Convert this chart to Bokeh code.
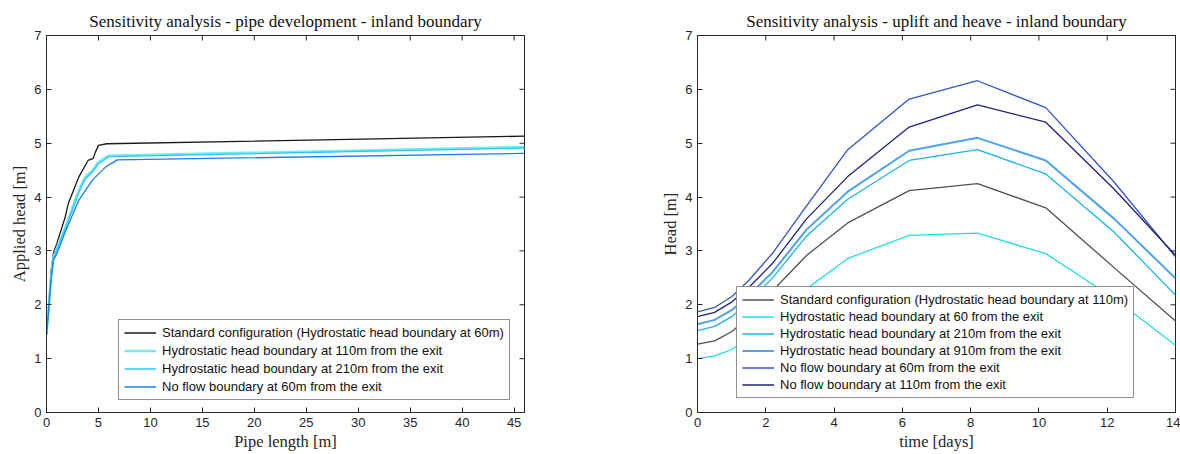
import math
from bokeh.plotting import figure
from bokeh.models import Legend, LegendItem, Range1d, FixedTicker
from bokeh.layouts import row
from bokeh.embed import file_html
from bokeh.resources import INLINE

# ---------------- Left panel: pipe development ----------------
std60_x = [0, 0.2, 0.45, 0.67, 1.0, 1.8, 2.1, 3.1, 4.0, 4.5, 4.7, 5.0, 5.8, 46]
std60_y = [1.44, 1.96, 2.64, 2.96, 3.14, 3.63, 3.88, 4.37, 4.68, 4.72, 4.83, 4.96, 4.99, 5.13]

hh110_x = [0, 0.2, 0.45, 0.67, 1.0, 1.8, 3.1, 3.7, 4.4, 5.0, 6.0, 46]
hh110_y = [1.44, 1.92, 2.55, 2.89, 3.05, 3.44, 4.12, 4.37, 4.49, 4.65, 4.77, 4.93]

hh210_x = [0, 0.2, 0.45, 0.67, 1.0, 1.8, 3.1, 3.7, 4.4, 5.0, 6.0, 46]
hh210_y = [1.44, 1.90, 2.52, 2.86, 3.02, 3.40, 4.08, 4.33, 4.46, 4.62, 4.75, 4.91]

nf60_x = [0, 0.2, 0.45, 0.67, 1.0, 1.8, 3.1, 4.4, 4.7, 5.7, 6.8, 46]
nf60_y = [1.44, 1.88, 2.48, 2.83, 2.95, 3.35, 3.94, 4.31, 4.37, 4.56, 4.69, 4.81]

left_labels = [
    "Standard configuration (Hydrostatic head boundary at 60m)",
    "Hydrostatic head boundary at 110m from the exit",
    "Hydrostatic head boundary at 210m from the exit",
    "No flow boundary at 60m from the exit",
]
left_colors = ["#1a1a1a", "#6ff0f0", "#2fc4f5", "#1a7ff0"]
left_widths = [1.3, 2.4, 1.3, 1.3]
pipe_ticks = [0, 5, 10, 15, 20, 25, 30, 35, 40, 45]

# ---------------- Right panel: uplift and heave ----------------
days = [0, 0.5, 1.0, 1.5, 2.2, 3.2, 4.4, 6.2, 8.2, 10.2, 12.2, 14]
std110 = [1.27, 1.33, 1.50, 1.78, 2.26, 2.92, 3.52, 4.12, 4.25, 3.80, 2.69, 1.70]
hh60 = [1.00, 1.05, 1.17, 1.38, 1.78, 2.30, 2.86, 3.29, 3.33, 2.95, 2.12, 1.25]
hh210r = [1.52, 1.60, 1.78, 2.05, 2.50, 3.28, 3.96, 4.68, 4.88, 4.43, 3.35, 2.18]
hh910 = [1.64, 1.72, 1.90, 2.17, 2.61, 3.40, 4.10, 4.86, 5.10, 4.68, 3.60, 2.49]
nf60r = [1.87, 1.95, 2.15, 2.45, 2.96, 3.84, 4.88, 5.82, 6.16, 5.66, 4.28, 2.89]
nf110 = [1.78, 1.86, 2.05, 2.32, 2.77, 3.60, 4.38, 5.30, 5.71, 5.39, 4.15, 2.92]

right_labels = [
    "Standard configuration (Hydrostatic head boundary at 110m)",
    "Hydrostatic head boundary at 60 from the exit",
    "Hydrostatic head boundary at 210m from the exit",
    "Hydrostatic head boundary at 910m from the exit",
    "No flow boundary at 60m from the exit",
    "No flow boundary at 110m from the exit",
]
right_colors = ["#505050", "#22dde8", "#1ab4e6", "#4ea2f0", "#3352cc", "#1f2275"]
right_widths = [1.3, 1.3, 1.3, 2.0, 1.3, 1.3]
day_ticks = [0, 2, 4, 6, 8, 10, 12, 14]
head_ticks = [0, 1, 2, 3, 4, 5, 6, 7]

AX_COL = "#262626"
SERIF = "Liberation Serif"
SANS = "Liberation Sans"


def style_axis(ax, ticks):
    ax.ticker = FixedTicker(ticks=ticks)
    ax.axis_line_color = AX_COL
    ax.axis_line_width = 1
    ax.major_tick_in = 5
    ax.major_tick_out = 0
    ax.major_tick_line_color = AX_COL
    ax.minor_tick_line_color = None
    ax.major_label_text_font = SANS
    ax.major_label_text_font_size = "13px"
    ax.major_label_text_color = AX_COL
    ax.major_label_standoff = 5
    ax.axis_label_text_font = SERIF
    ax.axis_label_text_font_size = "16.5px"
    ax.axis_label_text_font_style = "normal"
    ax.axis_label_text_color = AX_COL
    ax.axis_label_standoff = 2


def make_panel(title, xmax, xticks, xlabel, ylabel, border_left, width):
    p = figure(width=width, height=454, output_backend="svg", toolbar_location=None,
               x_range=Range1d(0, xmax), y_range=Range1d(0, 7),
               min_border_left=border_left, min_border_right=width - border_left - 478,
               min_border_top=35, min_border_bottom=42)
    p.title.text = title
    p.title.align = "center"
    p.title.text_font = SERIF
    p.title.text_font_size = "17px"
    p.title.text_font_style = "normal"
    p.title.text_color = "#111111"
    p.title.standoff = 9
    p.xgrid.visible = False
    p.ygrid.visible = False
    p.outline_line_color = AX_COL
    p.outline_line_width = 1
    p.background_fill_color = "white"
    p.border_fill_color = "white"
    p.xaxis.axis_label = xlabel
    p.yaxis.axis_label = ylabel
    style_axis(p.xaxis[0], xticks)
    style_axis(p.yaxis[0], head_ticks)
    # inward ticks on the top and right edges of the box (clipped to the frame)
    p.scatter(x=xticks, y=[7] * len(xticks), marker="dash", size=10,
              angle=math.pi / 2, line_color=AX_COL, line_width=1)
    p.scatter(x=[xmax] * len(head_ticks), y=head_ticks, marker="dash", size=10,
              line_color=AX_COL, line_width=1)
    return p


def make_legend(items, loc, spacing):
    lg = Legend(items=items, location=loc)
    lg.label_text_font = SANS
    lg.label_text_font_size = "13px"
    lg.label_text_color = "#111111"
    lg.glyph_width = 32
    lg.glyph_height = 15
    lg.label_height = 15
    lg.label_standoff = 6
    lg.spacing = spacing
    lg.padding = 5
    lg.margin = 0
    lg.border_line_color = AX_COL
    lg.border_line_width = 1
    lg.background_fill_color = "white"
    lg.background_fill_alpha = 1.0
    return lg


left = make_panel("Sensitivity analysis - pipe development - inland boundary",
                  46, pipe_ticks, "Pipe length [m]", "Applied head [m]", 46, 590)
left_series = [(std60_x, std60_y), (hh110_x, hh110_y), (hh210_x, hh210_y), (nf60_x, nf60_y)]
litems = []
for (xs, ys), lab, col, lw in zip(left_series, left_labels, left_colors, left_widths):
    r = left.line(xs, ys, line_color=col, line_width=lw)
    litems.append(LegendItem(label=lab, renderers=[r]))
left.add_layout(make_legend(litems, (72, 12), 3), "center")

right_p = make_panel("Sensitivity analysis - uplift and heave - inland boundary",
                     14, day_ticks, "time [days]", "Head [m]", 107, 590)
right_series = [std110, hh60, hh210r, hh910, nf60r, nf110]
ritems = []
for ys, lab, col, lw in zip(right_series, right_labels, right_colors, right_widths):
    r = right_p.line(days, ys, line_color=col, line_width=lw)
    ritems.append(LegendItem(label=lab, renderers=[r]))
right_p.add_layout(make_legend(ritems, (39, 14), 2), "center")

layout = row(left, right_p)
open("out.html", "w").write(file_html(layout, INLINE))
